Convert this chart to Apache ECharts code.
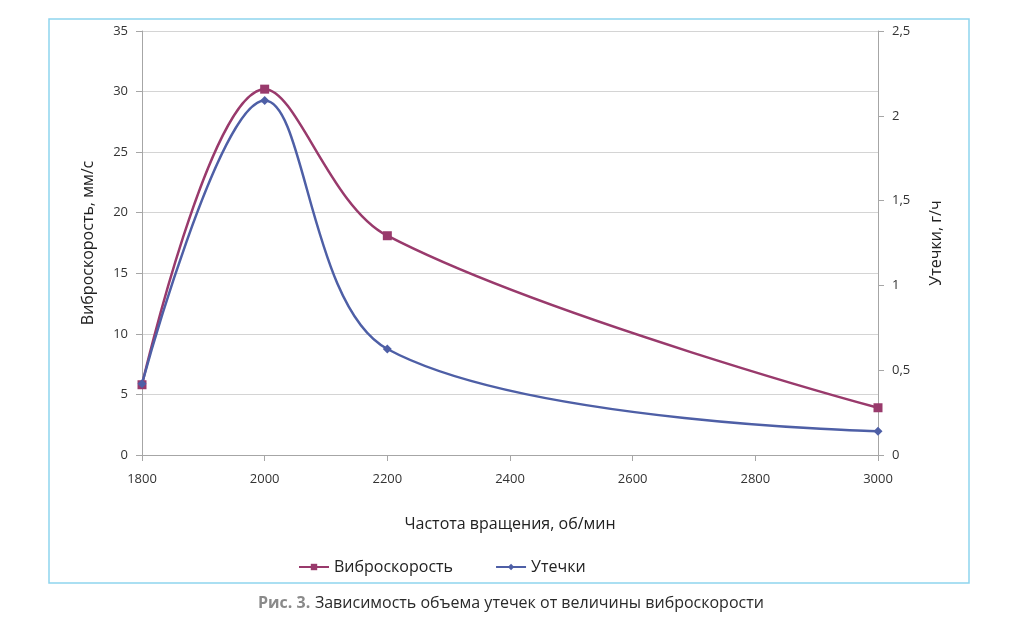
<!DOCTYPE html>
<html>
<head>
<meta charset="utf-8">
<script src="https://cdn.jsdelivr.net/npm/echarts@6/dist/echarts.min.js"></script>
<style>
  html, body { margin: 0; padding: 0; background: #fff; }
  #chart { width: 1023px; height: 636px; }
</style>
</head>
<body>
<div id="chart"></div>
<script>
  // частота вращения, об/мин
  var speeds = [1800, 2000, 2200, 3000]
  // виброскорость, мм/с (левая ось)
  var vibration = [5.8, 30.2, 18.1, 3.9]
  // утечки, г/ч (правая ось)
  var leaks = [0.42, 2.09, 0.625, 0.14]

  var magenta = '#993a6c'
  var blue = '#4e5fa6'
  var font = '"Open Sans", "Noto Sans", sans-serif'

  function pairs(xs, ys) {
    return xs.map(function (x, i) { return [x, ys[i]] })
  }

  var chart = echarts.init(document.getElementById('chart'))
  chart.setOption({
    animation: false,
    textStyle: {fontFamily: font},
    title: {
      left: 253,
      top: 589,
      text: '{b|Рис. 3.} {r|Зависимость объема утечек от величины виброскорости}',
      textStyle: {
        fontWeight: 'normal',
        rich: {
          b: {fontFamily: font, fontSize: 16, fontWeight: 'bold', color: '#8a8a8a'},
          r: {fontFamily: font, fontSize: 16, fontWeight: 'normal', color: '#2a2a2a'}
        }
      }
    },
    graphic: [{
      type: 'rect',
      shape: {x: 49, y: 19, width: 920, height: 564},
      style: {fill: 'none', stroke: '#8fd5ee', lineWidth: 1.5},
      silent: true
    }],
    legend: {
      top: 554,
      left: 293,
      itemWidth: 30,
      itemHeight: 8,
      itemGap: 42,
      textStyle: {fontFamily: font, fontSize: 16, color: '#222'},
      data: ['Виброскорость', 'Утечки']
    },
    grid: {left: 142, right: 145, top: 31, bottom: 181},
    xAxis: {
      type: 'value',
      min: 1800,
      max: 3000,
      interval: 200,
      name: 'Частота вращения, об/мин',
      nameLocation: 'middle',
      nameGap: 61,
      nameTextStyle: {fontFamily: font, fontSize: 16, color: '#222'},
      axisLine: {lineStyle: {color: '#a6a6a6'}},
      axisTick: {show: true, length: 6, lineStyle: {color: '#a6a6a6'}},
      axisLabel: {
        margin: 18, fontSize: 13, color: '#333',
        formatter: function (v) { return String(v) }
      },
      splitLine: {show: false}
    },
    yAxis: [
      {
        type: 'value',
        min: 0,
        max: 35,
        interval: 5,
        name: 'Виброскорость, мм/с',
        nameLocation: 'middle',
        nameGap: 46,
        nameTextStyle: {fontFamily: font, fontSize: 16, color: '#222'},
        axisLine: {show: true, lineStyle: {color: '#a6a6a6'}},
        axisTick: {show: true, length: 6, lineStyle: {color: '#a6a6a6'}},
        axisLabel: {margin: 14, fontSize: 13, color: '#333'},
        splitLine: {lineStyle: {color: '#d4d4d4'}}
      },
      {
        type: 'value',
        min: 0,
        max: 2.5,
        interval: 0.5,
        name: 'Утечки, г/ч',
        nameLocation: 'middle',
        nameGap: 50,
        nameTextStyle: {fontFamily: font, fontSize: 16, color: '#222'},
        axisLine: {show: true, lineStyle: {color: '#a6a6a6'}},
        axisTick: {show: true, length: 6, lineStyle: {color: '#a6a6a6'}},
        axisLabel: {
          margin: 14, fontSize: 13, color: '#333',
          formatter: function (v) { return String(v).replace('.', ',') }
        },
        splitLine: {show: false}
      }
    ],
    series: [
      {
        name: 'Виброскорость',
        type: 'line',
        yAxisIndex: 0,
        smooth: 0.35,
        symbol: 'rect',
        symbolSize: 9,
        color: magenta,
        lineStyle: {width: 2.5, color: magenta},
        data: pairs(speeds, vibration)
      },
      {
        name: 'Утечки',
        type: 'line',
        yAxisIndex: 1,
        smooth: 0.35,
        symbol: 'diamond',
        symbolSize: 9,
        color: blue,
        lineStyle: {width: 2.5, color: blue},
        data: pairs(speeds, leaks)
      }
    ]
  })
</script>
</body>
</html>
